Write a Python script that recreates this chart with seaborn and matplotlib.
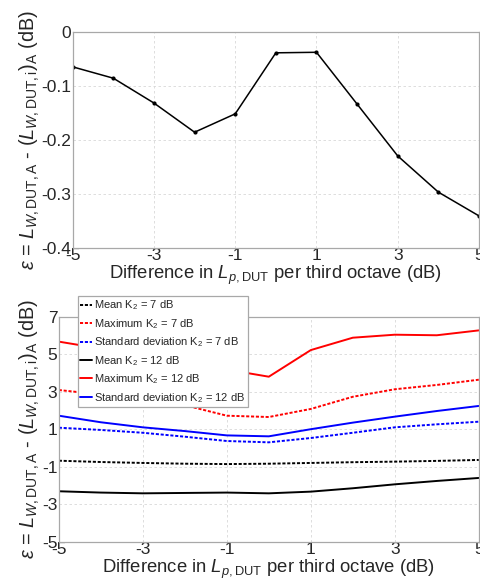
import numpy as np
import pandas as pd
import seaborn as sns
import matplotlib.pyplot as plt

# x positions (difference in Lp,DUT per third octave, dB)
diff_db = [-5, -4, -3, -2, -1, 0, 1, 2, 3, 4, 5]

# top panel: error of the A-weighted sound power
err_top = [-0.064, -0.085, -0.131, -0.185, -0.151, -0.038, -0.037, -0.133, -0.229, -0.296, -0.340]

# bottom panel series
mean_k7 = [-0.68, -0.75, -0.80, -0.84, -0.86, -0.84, -0.80, -0.76, -0.73, -0.69, -0.64]
max_k7 = [3.09, 2.85, 2.60, 2.28, 1.72, 1.65, 2.08, 2.73, 3.13, 3.36, 3.64]
std_k7 = [1.08, 0.96, 0.81, 0.60, 0.37, 0.30, 0.53, 0.81, 1.10, 1.26, 1.40]
mean_k12 = [-2.31, -2.38, -2.42, -2.40, -2.38, -2.42, -2.33, -2.15, -1.94, -1.76, -1.60]
max_k12 = [5.67, 5.30, 4.95, 4.60, 4.18, 3.80, 5.22, 5.88, 6.04, 6.01, 6.27]
std_k12 = [1.72, 1.37, 1.10, 0.90, 0.67, 0.62, 1.00, 1.35, 1.67, 1.97, 2.24]

labels = ['Mean K$_2$ = 7 dB', 'Maximum K$_2$ = 7 dB', 'Standard deviation K$_2$ = 7 dB',
          'Mean K$_2$ = 12 dB', 'Maximum K$_2$ = 12 dB', 'Standard deviation K$_2$ = 12 dB']
series = [mean_k7, max_k7, std_k7, mean_k12, max_k12, std_k12]
colors = ['black', 'red', 'blue', 'black', 'red', 'blue']
dashed = [True, True, True, False, False, False]

x_ticks = [-5, -3, -1, 1, 3, 5]
top_yticks = [0, -0.1, -0.2, -0.3, -0.4]
bot_yticks = [7, 5, 3, 1, -1, -3, -5]

sns.set_style('white')
plt.rcParams['font.family'] = ['Liberation Sans', 'DejaVu Sans']
plt.rcParams['mathtext.fontset'] = 'custom'
plt.rcParams['mathtext.rm'] = 'Liberation Sans'
plt.rcParams['mathtext.it'] = 'Liberation Sans:italic'
plt.rcParams['mathtext.bf'] = 'Liberation Sans:bold'

fs = 12.5
spine_col = '#a8a8a8'
grid_col = '#d8d8d8'

fig = plt.figure(figsize=(4.81, 5.80), dpi=100)
ax1 = fig.add_axes([72.7 / 481, 1 - 248.3 / 580, 406.3 / 481, 216 / 580])
ax2 = fig.add_axes([58.8 / 481, 1 - 541.7 / 580, 420 / 481, 225 / 580])

ylab = r'$\varepsilon$ = $L_{W,\mathrm{DUT,A}}$ - $(L_{W,\mathrm{DUT,i}})_\mathrm{A}$ (dB)'
xlab = r'Difference in $L_{p,\mathrm{DUT}}$ per third octave (dB)'

# top panel
df_top = pd.DataFrame({'diff': diff_db, 'err': err_top})
sns.lineplot(data=df_top, x='diff', y='err', ax=ax1, color='black', lw=1.1,
             marker='o', markersize=3, markeredgewidth=0)
ax1.set_ylim(-0.4, 0)
ax1.set_yticks(top_yticks)
ax1.set_yticklabels(['0', '-0.1', '-0.2', '-0.3', '-0.4'])

# bottom panel
for vals, lab, col, dsh in zip(series, labels, colors, dashed):
    d = pd.DataFrame({'diff': diff_db, 'v': vals})
    ls = (0, (1.6, 0.9)) if dsh else '-'
    sns.lineplot(data=d, x='diff', y='v', ax=ax2, color=col, lw=1.4,
                 linestyle=ls, label=lab)
ax2.set_ylim(-5, 7)
ax2.set_yticks(bot_yticks)
ax2.set_yticklabels([str(t) for t in bot_yticks])

for ax, lx in [(ax1, (30 - 72.7) / 406.3), (ax2, (30 - 58.8) / 420)]:
    ax.set_xlim(-5, 5)
    ax.set_xticks(x_ticks)
    ax.set_xticklabels([str(t) for t in x_ticks])
    ax.tick_params(length=0, labelsize=fs, pad=1)
    ax.tick_params(axis='x', pad=0)
    ax.grid(True, color=grid_col, linestyle=(0, (3, 3)), lw=0.6)
    for s in ax.spines.values():
        s.set_color(spine_col)
        s.set_linewidth(0.9)
    ax.set_xlabel(xlab, fontsize=13.3, labelpad=0.5)
    ax.set_ylabel(ylab, fontsize=14.3, va='center')
    ax.yaxis.set_label_coords(lx, 0.5)

leg = ax2.legend(loc='upper left', bbox_to_anchor=(77.7 / 481, 1 - 295.7 / 580),
                 bbox_transform=fig.transFigure, fontsize=8, frameon=True,
                 fancybox=False, framealpha=1, borderaxespad=0, borderpad=0.25,
                 handlelength=1.05, handletextpad=0.15, labelspacing=0.42)
leg.get_frame().set_edgecolor(spine_col)
leg.get_frame().set_linewidth(0.9)
leg.set_zorder(5)

fig.savefig('out.png', dpi=100)
